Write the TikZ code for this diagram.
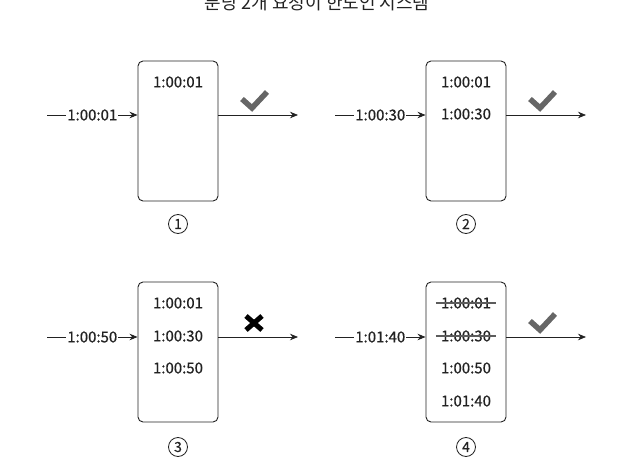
\documentclass[tikz,border=0pt]{standalone}
\usepackage{fontspec}
\setmainfont{Noto Sans CJK KR}
\newfontfamily\stampfont{Noto Sans CJK KR}[FakeBold=0.4]
\usetikzlibrary{arrows.meta}
\definecolor{ink}{HTML}{222222}
\definecolor{mark}{HTML}{666666}
\begin{document}
\begin{tikzpicture}[x=1pt, y=-1pt,
    bucket/.style={draw=ink, line width=0.9pt, rounded corners=5pt,
        minimum width=80pt, minimum height=140pt},
    stamp/.style={font=\stampfont\fontsize{15}{17}\selectfont, text=ink, inner sep=1pt},
    flow/.style={draw=ink, line width=0.8pt, -{Stealth[length=8pt, width=6.5pt]}},
    strike/.style={draw=mark!90!black, line width=1.8pt},
    okmark/.style={draw=mark, line width=5.5pt, line join=miter},
    nomark/.style={draw=black, line width=5pt},
    stepno/.style={draw=ink, circle, line width=0.8pt, minimum size=19pt,
        inner sep=0pt, font=\stampfont\fontsize{14}{16}\selectfont, text=ink},
    title/.style={font=\fontsize{18}{20}\selectfont, text=ink}]
    \useasboundingbox (0, 0) rectangle (634, 462);
    \clip (0, 0) rectangle (634, 462);

    \node[title, anchor=base] (ttl) at (317, 10) {분당 2개 요청이 한도인 시스템};

    % 1
    \node[bucket] (b1) at (178, 131) {};
    \node[stamp] (t11) at (178, 82) {1:00:01};
    \coordinate (s1) at (47, 115);
    \coordinate (e1) at (298, 115);
    \draw[flow] (s1) -- node[stamp, fill=white] (in1) {1:00:01} (b1.west |- s1);
    \draw[flow] (b1.east |- e1) -- (e1);
    \draw[okmark, shift={(254, 100)}] (-12, -1) -- (-2, 8) -- (13, -8);
    \node[stepno] (n1) at (178, 224) {1};

    % 2
    \node[bucket] (b2) at (466, 131) {};
    \node[stamp] (t21) at (466, 82) {1:00:01};
    \node[stamp] (t22) at (466, 114) {1:00:30};
    \coordinate (s2) at (335, 115);
    \coordinate (e2) at (586, 115);
    \draw[flow] (s2) -- node[stamp, fill=white] (in2) {1:00:30} (b2.west |- s2);
    \draw[flow] (b2.east |- e2) -- (e2);
    \draw[okmark, shift={(542, 100)}] (-12, -1) -- (-2, 8) -- (13, -8);
    \node[stepno] (n2) at (466, 224) {2};

    % 3
    \node[bucket] (b3) at (178, 352) {};
    \node[stamp] (t31) at (178, 303) {1:00:01};
    \node[stamp] (t32) at (178, 336) {1:00:30};
    \node[stamp] (t33) at (178, 368) {1:00:50};
    \coordinate (s3) at (47, 337);
    \coordinate (e3) at (298, 337);
    \draw[flow] (s3) -- node[stamp, fill=white] (in3) {1:00:50} (b3.west |- s3);
    \draw[flow] (b3.east |- e3) -- (e3);
    \draw[nomark, shift={(254, 323)}] (-8, -7) -- (8, 7) (-8, 7) -- (8, -7);
    \node[stepno] (n3) at (178, 447) {3};

    % 4
    \node[bucket] (b4) at (466, 352) {};
    \node[stamp] (t41) at (466, 303) {1:00:01};
    \node[stamp] (t42) at (466, 336) {1:00:30};
    \node[stamp] (t43) at (466, 368) {1:00:50};
    \node[stamp] (t44) at (466, 401) {1:01:40};
    \draw[strike] ([xshift=-4pt]t41.west) -- ([xshift=4pt]t41.east);
    \draw[strike] ([xshift=-4pt]t42.west) -- ([xshift=4pt]t42.east);
    \coordinate (s4) at (335, 337);
    \coordinate (e4) at (586, 337);
    \draw[flow] (s4) -- node[stamp, fill=white] (in4) {1:01:40} (b4.west |- s4);
    \draw[flow] (b4.east |- e4) -- (e4);
    \draw[okmark, shift={(542, 322)}] (-12, -1) -- (-2, 8) -- (13, -8);
    \node[stepno] (n4) at (466, 447) {4};
\end{tikzpicture}
\end{document}
